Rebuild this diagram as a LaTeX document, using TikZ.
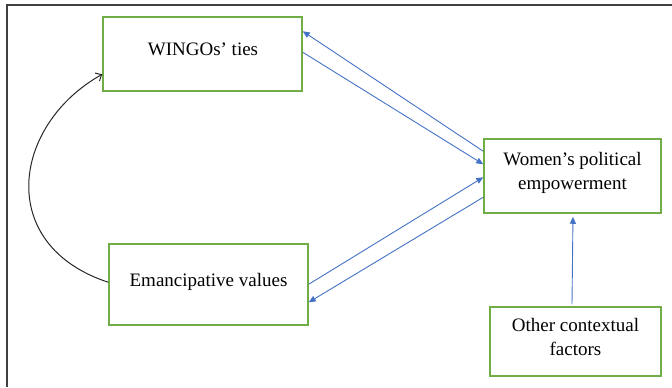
\documentclass[tikz,border=0pt]{standalone}
\usepackage{fontspec}
\setmainfont{Liberation Serif}
\usetikzlibrary{arrows.meta}
\definecolor{boxgreen}{RGB}{112,173,71}
\definecolor{arrblue}{RGB}{68,114,196}
\definecolor{framegray}{RGB}{64,64,64}
\begin{document}
\begin{tikzpicture}[x=1bp,y=-1bp,
  box/.style={draw=boxgreen, line width=1.5bp, rectangle, inner sep=0pt},
  lbl/.style={font=\fontsize{19bp}{24bp}\selectfont, align=center, inner sep=0pt, anchor=base},
  bluearrow/.style={draw=arrblue, line width=0.9bp, -{Triangle[length=7bp,width=6bp]}},
  blackarrow/.style={draw=black!85, line width=1bp, -{Straight Barb[length=5bp,width=9bp]}}
]
\useasboundingbox (0,0) rectangle (672,387);
% frame
\draw[framegray, line width=1.6bp] (7,387) -- (7,5) -- (672,5);

% boxes
\node[box, minimum width=199bp, minimum height=74bp] (wingo) at (202.5,54) {};
\node[box, minimum width=199bp, minimum height=81bp] (emanc) at (208.5,284.5) {};
\node[box, minimum width=177bp, minimum height=74bp] (women) at (572.5,176) {};
\node[box, minimum width=171bp, minimum height=69bp] (other) at (575.5,341.5) {};

% labels (base = baseline of the last line)
\node[lbl] (wingotxt) at (203,55) {WINGOs’ ties};
\node[lbl] (emanctxt) at (208.5,286) {Emancipative values};
\node[lbl] (womentxt) at (572.5,189) {Women’s political\\empowerment};
\node[lbl] (othertxt) at (575.5,355) {Other contextual\\factors};

% arrows
\draw[bluearrow] ([yshift=-13bp]women.north west) -- ([yshift=-15bp]wingo.north east);
\draw[bluearrow] ([yshift=-36bp]wingo.north east) -- ([yshift=-26bp]women.north west);
\draw[bluearrow] ([yshift=-41bp]emanc.north east) -- ([yshift=-39bp]women.north west);
\draw[bluearrow] ([yshift=-59bp]women.north west) -- ([yshift=-59bp]emanc.north east);
\draw[bluearrow, shorten >=3bp] ([xshift=-3.5bp, yshift=2bp]other.north) -- ([xshift=0.5bp]women.south);

% curved arrow
\draw[blackarrow] ([yshift=-39bp]emanc.north west) .. controls (-5,245) and (12,125) .. ([yshift=-58bp]wingo.north west);
\end{tikzpicture}
\end{document}
